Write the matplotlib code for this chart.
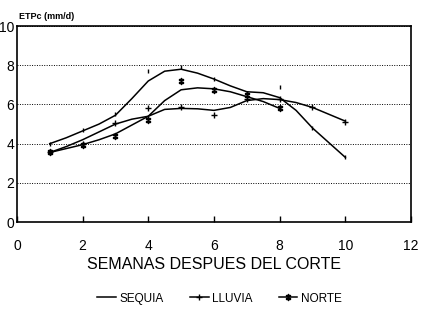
import matplotlib.pyplot as plt

plt.rcParams['font.family'] = ['Liberation Sans Narrow', 'Liberation Sans', 'DejaVu Sans']

# observed points
semanas = [1, 2, 3, 4, 5, 6, 7, 8, 9, 10]
sequia_pts = [4.0, 4.7, 5.5, 7.7, 7.9, 7.3, 6.6, 6.9, 4.8, 3.3]
lluvia_pts = [3.6, 4.0, 5.05, 5.8, 5.85, 5.45, 6.3, 6.3, 5.85, 5.1]
semanas_norte = [1, 2, 3, 4, 5, 6, 7, 8]
norte_pts = [3.55, 3.95, 4.4, 5.2, 7.2, 6.75, 6.5, 5.8]

# smoothed curves
x_curva = [1, 1.5, 2, 2.5, 3, 3.5, 4, 4.5, 5, 5.5, 6, 6.5, 7, 7.5, 8, 8.5, 9, 9.5, 10]
sequia_curva = [4.0, 4.3, 4.65, 5.0, 5.45, 6.3, 7.2, 7.7, 7.8, 7.6, 7.3, 6.95, 6.65, 6.6, 6.35, 5.7, 4.8, 4.05, 3.3]
lluvia_curva = [3.55, 3.75, 3.95, 4.2, 4.5, 4.95, 5.4, 5.75, 5.8, 5.78, 5.7, 5.85, 6.2, 6.3, 6.25, 6.1, 5.85, 5.5, 5.15]
x_curva_norte = [1, 1.5, 2, 2.5, 3, 3.5, 4, 4.5, 5, 5.5, 6, 6.5, 7, 7.5, 8]
norte_curva = [3.55, 3.85, 4.2, 4.6, 5.0, 5.25, 5.4, 6.2, 6.75, 6.85, 6.8, 6.65, 6.4, 6.15, 5.8]

fig = plt.figure(figsize=(4.22, 3.11), dpi=100)
ax = fig.add_axes([0.04, 0.286, 0.934, 0.63])

ax.plot(x_curva, sequia_curva, color='black', lw=1.1)
ax.plot(x_curva, lluvia_curva, color='black', lw=1.1)
ax.plot(x_curva_norte, norte_curva, color='black', lw=1.1)

ax.plot(semanas, sequia_pts, ls='none', marker='|', ms=3, mew=1, color='black')
ax.plot(semanas, lluvia_pts, ls='none', marker='+', ms=5, mew=1, color='black')
ax.plot(semanas_norte, norte_pts, ls='none', marker=r'$\ddagger$', ms=4.5, color='black')

# legend handles
ax.plot([], [], color='black', lw=1.1, label='SEQUIA')
ax.plot([], [], color='black', lw=1.1, marker='+', ms=5, label='LLUVIA')
ax.plot([], [], color='black', lw=1.1, marker=r'$\ddagger$', ms=4.5, label='NORTE')
handles, labels = ax.get_legend_handles_labels()
fig.legend(handles, labels, loc='center', bbox_to_anchor=(0.52, 0.04), ncol=3,
           frameon=False, fontsize=8.5, handlelength=1.6, handletextpad=0.3, columnspacing=2.2)

ax.set_xlim(0, 12)
ax.set_ylim(0, 10)
ax.set_xticks([0, 2, 4, 6, 8, 10, 12])
ax.set_yticks([0, 2, 4, 6, 8, 10])
ax.tick_params(axis='x', direction='in', length=4, width=1, labelsize=10, pad=12)
ax.tick_params(axis='y', length=0, labelsize=10, pad=2)
ax.grid(axis='y', ls=(0, (1, 1.5)), color='black', lw=0.7)
for s in ax.spines.values():
    s.set_linewidth(1.2)

ax.set_xlabel('SEMANAS DESPUES DEL CORTE', fontsize=11.5, labelpad=3)
fig.text(0.045, 0.94, 'ETPc (mm/d)', fontsize=6.5, fontweight='bold')

fig.savefig('out.png', dpi=100)
